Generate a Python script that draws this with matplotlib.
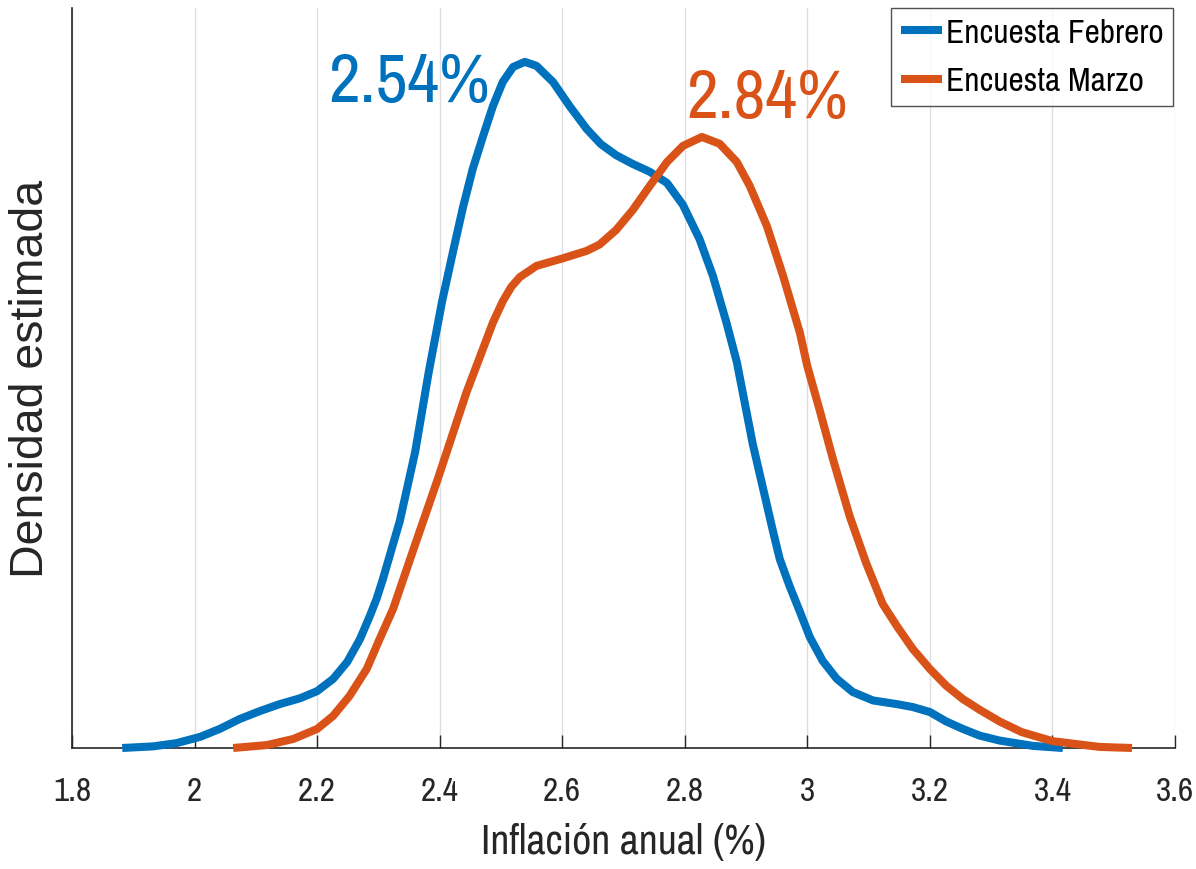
import matplotlib
matplotlib.use('Agg')
import matplotlib.pyplot as plt
import numpy as np

#########################################################################################################
################################################ data ###################################################
#########################################################################################################
# estimated density
x_feb = [1.882, 1.932, 1.97, 2.009, 2.041, 2.074, 2.107, 2.139, 2.172, 2.2, 2.226, 2.249, 2.27, 2.286,
         2.297, 2.307, 2.335, 2.36, 2.382, 2.404, 2.422, 2.438, 2.454, 2.471, 2.487, 2.503, 2.52, 2.539,
         2.558, 2.585, 2.612, 2.64, 2.663, 2.688, 2.715, 2.743, 2.771, 2.797, 2.824, 2.846, 2.868, 2.885,
         2.911, 2.944, 2.955, 2.971, 2.988, 3.004, 3.025, 3.048, 3.074, 3.107, 3.146, 3.172, 3.2, 3.227,
         3.254, 3.281, 3.314, 3.368, 3.417]
y_feb = [0.0, 0.006, 0.018, 0.042, 0.072, 0.110, 0.140, 0.166, 0.188, 0.215, 0.261, 0.325, 0.412, 0.499,
         0.564, 0.636, 0.859, 1.120, 1.420, 1.690, 1.880, 2.045, 2.191, 2.316, 2.429, 2.520, 2.577, 2.596,
         2.581, 2.520, 2.429, 2.342, 2.285, 2.243, 2.210, 2.180, 2.138, 2.055, 1.926, 1.786, 1.610, 1.460,
         1.150, 0.820, 0.715, 0.613, 0.515, 0.420, 0.330, 0.262, 0.212, 0.180, 0.166, 0.155, 0.136, 0.100,
         0.072, 0.047, 0.028, 0.008, 0.0]

x_mar = [2.063, 2.118, 2.161, 2.2, 2.226, 2.253, 2.281, 2.302, 2.324, 2.36, 2.397, 2.444, 2.487, 2.503,
         2.517, 2.531, 2.558, 2.6, 2.64, 2.661, 2.688, 2.715, 2.743, 2.771, 2.797, 2.828, 2.857, 2.885,
         2.906, 2.934, 2.96, 2.988, 3.0, 3.02, 3.041, 3.069, 3.096, 3.123, 3.146, 3.172, 3.2, 3.227,
         3.254, 3.281, 3.314, 3.35, 3.4, 3.477, 3.53]
y_mar = [0.0, 0.011, 0.034, 0.072, 0.121, 0.197, 0.299, 0.412, 0.526, 0.770, 1.018, 1.347, 1.610, 1.690,
         1.745, 1.782, 1.824, 1.852, 1.881, 1.905, 1.960, 2.035, 2.127, 2.217, 2.278, 2.312, 2.286, 2.217,
         2.127, 1.975, 1.790, 1.570, 1.445, 1.280, 1.100, 0.878, 0.700, 0.545, 0.462, 0.375, 0.299, 0.235,
         0.185, 0.145, 0.100, 0.060, 0.026, 0.004, 0.0]

series_names = ['Encuesta Febrero', 'Encuesta Marzo']
peak_labels = ['2.54%', '2.84%']
peak_label_pos = [(2.219, 2.448), (2.802, 2.388)]
xticks = [1.8, 2.0, 2.2, 2.4, 2.6, 2.8, 3.0, 3.2, 3.4, 3.6]
xtick_labels = ['1.8', '2', '2.2', '2.4', '2.6', '2.8', '3', '3.2', '3.4', '3.6']

#########################################################################################################
################################################ plot ###################################################
#########################################################################################################
plt.rcParams['font.family'] = ['Archivo Narrow', 'Liberation Sans', 'DejaVu Sans']
colors = ['#0072BD', '#D95319']
axcol = '#262626'

fig = plt.figure(figsize=(11.96, 8.70), dpi=100)
ax = fig.add_axes([0.0602, 0.1391, 0.9222, 0.8506])

ax.plot(x_feb, y_feb, color=colors[0], lw=5.8, solid_capstyle='butt', solid_joinstyle='round',
        clip_on=False, label=series_names[0], zorder=3)
ax.plot(x_mar, y_mar, color=colors[1], lw=5.8, solid_capstyle='butt', solid_joinstyle='round',
        clip_on=False, label=series_names[1], zorder=3)

for lab, (tx, ty), c in zip(peak_labels, peak_label_pos, colors):
    ax.text(tx, ty, lab, color=c, fontsize=50, ha='left', va='baseline')

ax.set_xlim(1.8, 3.6)
ax.set_ylim(0, 2.8)
ax.set_xticks(xticks)
ax.set_xticklabels(xtick_labels)
ax.set_yticks([])
ax.tick_params(axis='x', direction='in', length=9.5, width=1.0, color=axcol,
               labelsize=24, labelcolor=axcol, pad=20)
ax.grid(axis='x', color='#dfdfdf', lw=1.0, zorder=0)
ax.set_axisbelow(True)

for s in ['top', 'right']:
    ax.spines[s].set_visible(False)
for s in ['left', 'bottom']:
    ax.spines[s].set_color(axcol)
    ax.spines[s].set_linewidth(1.2)

ax.set_xlabel('Inflación anual (%)', fontsize=30, color=axcol)
ax.xaxis.set_label_coords(0.5, -0.1)
ax.set_ylabel('Densidad estimada', fontsize=33.5, color=axcol, family=['Liberation Sans', 'DejaVu Sans'])
ax.yaxis.set_label_coords(-0.017, 0.5)

leg = ax.legend(loc='upper right', bbox_to_anchor=(0.9985, 1.0), fontsize=24, frameon=True,
                fancybox=False, handlelength=1.24, handletextpad=0.1, borderpad=0.3,
                labelspacing=0.55, borderaxespad=0.0)
leg.get_frame().set_edgecolor(axcol)
leg.get_frame().set_linewidth(1.0)
for h in leg.get_lines():
    h.set_linewidth(5.8)

fig.savefig('out.png', dpi=100)
